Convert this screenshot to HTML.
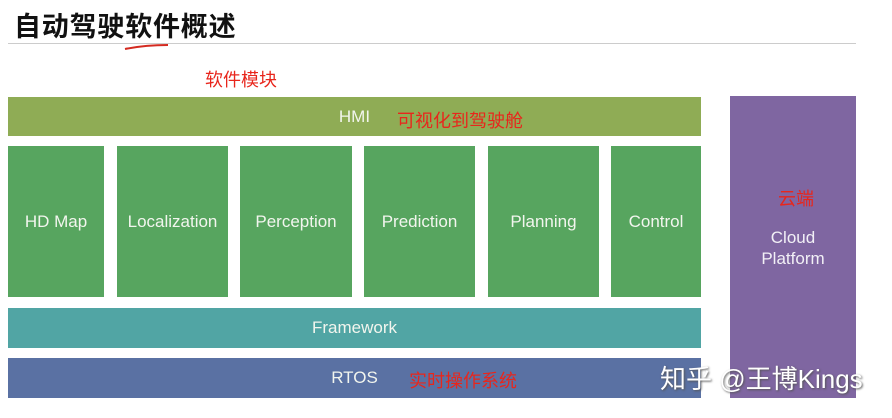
<!DOCTYPE html>
<html><head><meta charset="utf-8"><style>
body{margin:0;width:892px;height:418px;background:#fff;position:relative;overflow:hidden;font-family:"Liberation Sans","Noto Sans CJK SC",sans-serif}
.a{position:absolute}
.b{position:absolute;display:flex;align-items:center;justify-content:center;color:#f2f5ee;font-size:17px}
.g{background:#57a55f;top:146px;height:151px}
.r{color:#e8261c}
</style></head><body>
<div class="a" style="left:14px;top:5px;font-size:27px;font-weight:bold;color:#111;letter-spacing:0.8px">自动驾驶软件概述</div>
<div class="a" style="left:8px;top:43px;width:848px;height:1px;background:#ccc"></div>
<svg class="a" style="left:120px;top:42px" width="55" height="10"><path d="M5 7 Q25 3 48 3" stroke="#d42a20" stroke-width="2" fill="none"/></svg>
<div class="a r" style="left:205px;top:66px;font-size:18px">软件模块</div>
<div class="b" style="left:8px;top:97px;width:693px;height:39px;background:#8fac55">HMI</div>
<div class="a r" style="left:397px;top:107px;font-size:18px">可视化到驾驶舱</div>
<div class="b g" style="left:8px;width:96px">HD Map</div>
<div class="b g" style="left:117px;width:111px">Localization</div>
<div class="b g" style="left:240px;width:112px">Perception</div>
<div class="b g" style="left:364px;width:111px">Prediction</div>
<div class="b g" style="left:488px;width:111px">Planning</div>
<div class="b g" style="left:611px;width:90px">Control</div>
<div class="b" style="left:8px;top:308px;width:693px;height:40px;background:#51a5a4">Framework</div>
<div class="b" style="left:8px;top:358px;width:693px;height:40px;background:#5a71a3">RTOS</div>
<div class="a r" style="left:409px;top:367px;font-size:18px">实时操作系统</div>
<div class="a" style="left:730px;top:96px;width:126px;height:302px;background:#7f66a1"></div>
<div class="a r" style="left:778px;top:185px;font-size:18px">云端</div>
<div class="a" style="left:730px;top:227px;width:126px;text-align:center;color:#f2f0f6;font-size:17px;line-height:21px">Cloud<br>Platform</div>
<div class="a" style="left:660px;top:359px;font-size:26px;color:#fff;text-shadow:1px 1px 2px #555">知乎 @王博Kings</div>
</body></html>
